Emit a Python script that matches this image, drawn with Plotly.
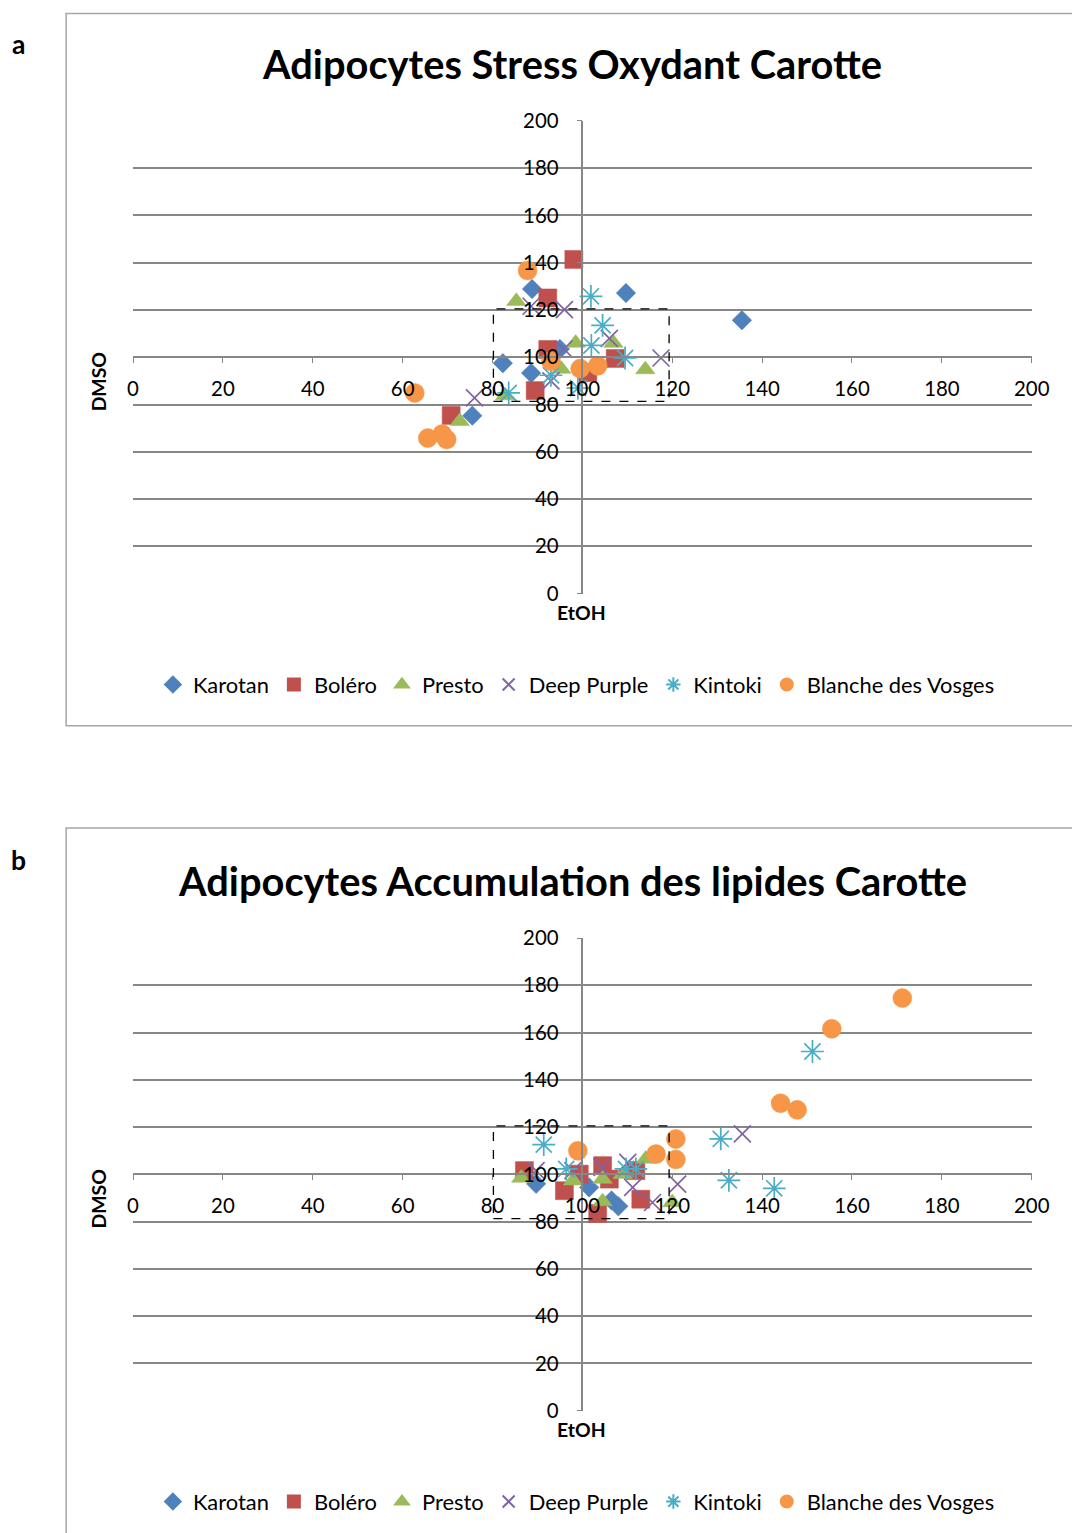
import plotly.graph_objects as go

# ---------------- data ----------------
series_names = ["Karotan", "Boléro", "Presto", "Deep Purple", "Kintoki", "Blanche des Vosges"]
tick_vals = [0, 20, 40, 60, 80, 100, 120, 140, 160, 180, 200]

# Panel a : Adipocytes Stress Oxydant Carotte  (x = EtOH, y = DMSO)
karotan_a_x = [88.8, 109.7, 135.5, 82.3, 88.6, 75.5, 95.0]
karotan_a_y = [128.9, 127.2, 115.7, 97.5, 93.3, 75.3, 103.5]
bolero_a_x = [98.1, 92.3, 92.3, 89.5, 70.8, 101.2, 107.3]
bolero_a_y = [141.4, 125.1, 103.3, 85.9, 75.4, 93.5, 99.5]
presto_a_x = [85.3, 98.5, 106.9, 114.0, 72.7, 82.8, 95.3]
presto_a_y = [123.7, 106.0, 106.0, 94.8, 72.9, 83.8, 95.0]
purple_a_x = [88.6, 96.0, 95.9, 106.0, 117.5, 76.0, 93.0]
purple_a_y = [121.6, 120.2, 103.5, 108.0, 99.7, 82.8, 90.0]
kintoki_a_x = [101.9, 104.5, 102.0, 109.5, 83.6, 93.0, 99.0]
kintoki_a_y = [125.8, 113.5, 105.0, 99.7, 84.9, 92.4, 87.0]
blanche_a_x = [87.8, 62.7, 65.6, 68.8, 69.8, 99.5, 103.4, 93.0]
blanche_a_y = [136.7, 84.9, 65.8, 67.5, 65.2, 95.2, 96.4, 98.3]

# Panel b : Adipocytes Accumulation des lipides Carotte
karotan_b_x = [89.7, 101.5, 106.5, 108.0]
karotan_b_y = [96.0, 94.5, 89.0, 86.5]
bolero_b_x = [87.1, 96.0, 99.3, 104.5, 103.4, 106.0, 111.9, 113.0]
bolero_b_y = [101.6, 93.1, 100.1, 103.7, 83.5, 98.0, 101.6, 89.5]
presto_b_x = [86.4, 97.9, 104.5, 104.5, 109.0, 114.1, 120.0]
presto_b_y = [98.5, 97.3, 98.0, 88.5, 100.1, 106.5, 88.1]
purple_b_x = [89.7, 97.9, 104.4, 110.1, 111.2, 115.6, 121.2, 135.6]
purple_b_y = [101.6, 101.6, 103.0, 105.1, 94.5, 88.1, 95.9, 117.1]
kintoki_b_x = [91.4, 96.4, 109.7, 111.9, 130.8, 132.6, 142.7, 151.2]
kintoki_b_y = [112.6, 102.3, 102.3, 102.3, 115.0, 97.5, 94.1, 152.0]
blanche_b_x = [99.0, 116.4, 120.8, 120.8, 144.1, 147.8, 155.5, 171.2]
blanche_b_y = [110.0, 108.6, 115.0, 106.3, 130.1, 127.3, 161.6, 174.6]

titles = ["Adipocytes Stress Oxydant Carotte", "Adipocytes Accumulation des lipides Carotte"]

# ---------------- styles ----------------
W, H = 1072, 1533
FONT = "Lato"
colors = ["#4F81BD", "#C0504D", "#9BBB59", "#8064A2", "#4BACC6", "#F79646"]
symbols = ["diamond", "square", "triangle-up", "x-thin-open", "asterisk-open", "circle"]
sizes = [15, 18, 17, 17, 19, 19]
GRID = "#878787"

# the photographed page is shown slightly reduced and shifted; map target pixels to figure pixels
SX, CX = 0.979, 5.8
SY, CY = 0.983, 12.2


def px_x(p):
    return ((p - CX) / SX) / W


def px_y(p):
    return 1 - ((p - CY) / SY) / H


def fs(s):
    return round(s / 0.981, 1)


fig = go.Figure()

panels = [
    dict(xs=[karotan_a_x, bolero_a_x, presto_a_x, purple_a_x, kintoki_a_x, blanche_a_x],
         ys=[karotan_a_y, bolero_a_y, presto_a_y, purple_a_y, kintoki_a_y, blanche_a_y],
         xa="x", ya="y", legend="legend", top=120, bottom=592),
    dict(xs=[karotan_b_x, bolero_b_x, presto_b_x, purple_b_x, kintoki_b_x, blanche_b_x],
         ys=[karotan_b_y, bolero_b_y, presto_b_y, purple_b_y, kintoki_b_y, blanche_b_y],
         xa="x2", ya="y2", legend="legend2", top=936, bottom=1408),
]

for p in panels:
    for i, name in enumerate(series_names):
        open_sym = symbols[i].endswith("open")
        fig.add_trace(go.Scatter(
            x=p["xs"][i], y=p["ys"][i], mode="markers", name=name,
            xaxis=p["xa"], yaxis=p["ya"], legend=p["legend"],
            marker=dict(symbol=symbols[i], size=sizes[i], color=colors[i],
                        line=dict(color=colors[i], width=1.7 if open_sym else 0.5)),
            cliponaxis=False,
        ))

xdom = [px_x(133), px_x(1033)]
xmid = (xdom[0] + xdom[1]) / 2

axis_common = dict(range=[0, 200], tickvals=tick_vals, ticks="outside", ticklen=5,
                   tickcolor=GRID, tickwidth=1.3, showline=True, linecolor=GRID, linewidth=1.5,
                   zeroline=False, tickfont=dict(family=FONT, size=fs(20), color="#000"),
                   fixedrange=True)

layout_axes = {}
for k, p in enumerate(panels):
    ydom = [px_y(p["bottom"]), px_y(p["top"])]
    ymid = (ydom[0] + ydom[1]) / 2
    xname = "xaxis" if k == 0 else "xaxis2"
    yname = "yaxis" if k == 0 else "yaxis2"
    layout_axes[xname] = dict(axis_common, domain=xdom, anchor="free", position=ymid,
                              showgrid=False, ticklabelstandoff=8)
    layout_axes[yname] = dict(axis_common, domain=ydom, anchor="free", position=xmid,
                              showgrid=True, gridcolor=GRID, gridwidth=1.5, ticklabelstandoff=14)

fig.update_layout(**layout_axes)

shapes = []
annotations = []
# panel frames (right / bottom edges run off the picture)
for (t, b) in [(10, 724), (826, 1600)]:
    shapes.append(dict(type="rect", xref="paper", yref="paper", x0=px_x(66), x1=px_x(1130),
                       y0=min(px_y(b), 1.0), y1=min(px_y(t), 0.9996),
                       line=dict(color="#a6a6a6", width=1.5), layer="below"))
# dashed zoom boxes
for xa, ya in [("x", "y"), ("x2", "y2")]:
    shapes.append(dict(type="rect", xref=xa, yref=ya, x0=80.2, x1=119.3, y0=81.3, y1=120.5,
                       line=dict(color="#000", width=1.3, dash="dash")))


def ann(text, x, y, size, angle=0):
    return dict(text=text, x=px_x(x), y=px_y(y), xref="paper", yref="paper",
                xanchor="center", yanchor="middle", showarrow=False, textangle=angle,
                font=dict(family=FONT, size=fs(size), color="#000"))


for k, (label, title, ly_lab, ty, ety, dy) in enumerate([
        ("a", titles[0], 43, 63, 611, 381),
        ("b", titles[1], 858, 879, 1427, 1197)]):
    annotations.append(ann(f"<b>{label}</b>", 18, ly_lab, 26))
    annotations.append(ann(f"<b>{title}</b>", 573, ty, 39))
    annotations.append(ann("<b>EtOH</b>", 582, ety, 19))
    annotations.append(ann("<b>DMSO</b>", 98, dy, 19, -90))

legend_common = dict(orientation="h", xanchor="center", yanchor="middle", x=px_x(577),
                     font=dict(family=FONT, size=fs(21.5), color="#000"), itemsizing="constant",
                     bgcolor="rgba(0,0,0,0)", tracegroupgap=0, itemwidth=30)

fig.update_layout(
    width=W, height=H, margin=dict(l=0, r=0, t=0, b=0),
    paper_bgcolor="white", plot_bgcolor="white",
    showlegend=True,
    legend=dict(legend_common, y=px_y(683)),
    legend2=dict(legend_common, y=px_y(1499)),
    shapes=shapes, annotations=annotations,
    font=dict(family=FONT),
)

fig.write_html("out.html", config={"displayModeBar": False},
               post_script="document.body.style.margin='0';document.body.style.overflow='hidden';")
